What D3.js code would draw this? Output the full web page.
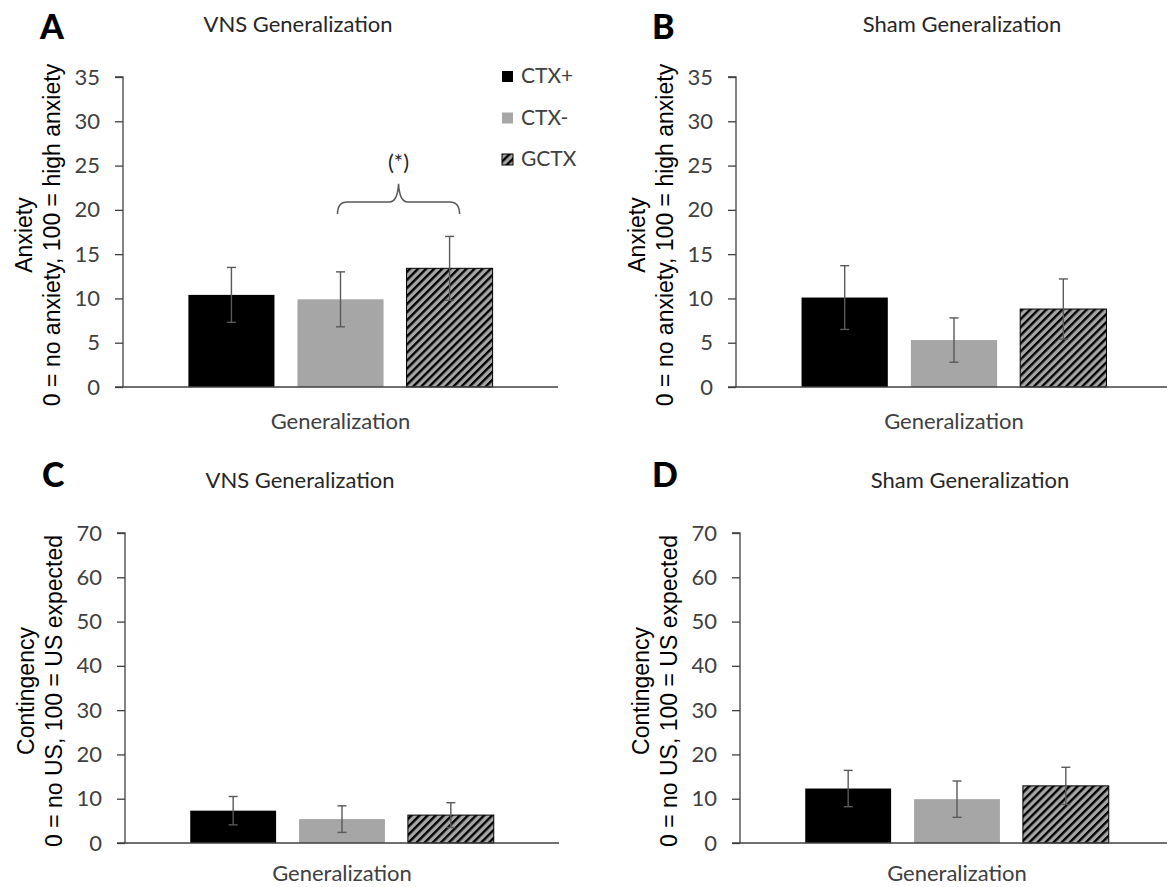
<!DOCTYPE html>
<html>
<head>
<meta charset="utf-8">
<script src="https://cdn.jsdelivr.net/npm/d3@7"></script>
<style>
  body { margin: 0; background: #fff; }
  svg { display: block; }
</style>
</head>
<body>
<svg id="chart" width="1167" height="887"></svg>
<script>
// Groups shown as bars in each panel
const series = ["CTX+", "CTX-", "GCTX"];
const category = ["Generalization"];

// Axis tick values
const anxietyTicks = [0, 5, 10, 15, 20, 25, 30, 35];
const contingencyTicks = [0, 10, 20, 30, 40, 50, 60, 70];

// Mean ratings and standard errors per group
const vnsAnxiety = [10.4, 9.9, 13.4];
const vnsAnxietyErr = [3.1, 3.1, 3.6];
const shamAnxiety = [10.1, 5.3, 8.8];
const shamAnxietyErr = [3.6, 2.5, 3.4];
const vnsContingency = [7.3, 5.4, 6.3];
const vnsContingencyErr = [3.2, 3.0, 2.8];
const shamContingency = [12.3, 9.9, 12.9];
const shamContingencyErr = [4.1, 4.1, 4.2];

// Significance marker between CTX- and GCTX in panel A
const sigLabel = "(*)";
const sigLevel = 20.9;

const svg = d3.select("#chart");
const FONT = "Lato, 'Open Sans', sans-serif";
const ARIAL = "'Liberation Sans', Arial, sans-serif";
const TEXT = "#404040";
const AXIS = "#404040";
const fills = { "CTX+": "#000000", "CTX-": "#a6a6a6", "GCTX": "url(#hatch)" };

// Diagonal hatch used by the GCTX bars
const defs = svg.append("defs");
const hatch = defs.append("pattern")
  .attr("id", "hatch")
  .attr("patternUnits", "userSpaceOnUse")
  .attr("width", 5.7).attr("height", 5.7)
  .attr("patternTransform", "rotate(45)");
hatch.append("rect").attr("width", 5.7).attr("height", 5.7).attr("fill", "#a6a6a6");
hatch.append("line").attr("x1", 1.2).attr("y1", 0).attr("x2", 1.2).attr("y2", 5.7)
  .attr("stroke", "#000").attr("stroke-width", 2.4);

const panels = [
  { letter: "A", title: "VNS Generalization", yLabel: ["Anxiety", "0 = no anxiety, 100 = high anxiety"],
    ticks: anxietyTicks, values: vnsAnxiety, errs: vnsAnxietyErr,
    left: 123, right: 558, top: 77, bottom: 387, catPad: 26,
    letterX: 40, letterY: 39, titleX: 298, titleY: 32, legend: true, sig: true },
  { letter: "B", title: "Sham Generalization", yLabel: ["Anxiety", "0 = no anxiety, 100 = high anxiety"],
    ticks: anxietyTicks, values: shamAnxiety, errs: shamAnxietyErr,
    left: 736, right: 1172, top: 77, bottom: 387, catPad: 26,
    letterX: 652, letterY: 39, titleX: 962, titleY: 32, legend: false, sig: false },
  { letter: "C", title: "VNS Generalization", yLabel: ["Contingency", "0 = no US, 100 = US expected"],
    ticks: contingencyTicks, values: vnsContingency, errs: vnsContingencyErr,
    left: 125, right: 559, top: 533, bottom: 843, catPad: 22,
    letterX: 42, letterY: 487, titleX: 300, titleY: 488, legend: false, sig: false },
  { letter: "D", title: "Sham Generalization", yLabel: ["Contingency", "0 = no US, 100 = US expected"],
    ticks: contingencyTicks, values: shamContingency, errs: shamContingencyErr,
    left: 740, right: 1174, top: 533, bottom: 843, catPad: 22,
    letterX: 652, letterY: 487, titleX: 970, titleY: 488, legend: false, sig: false }
];

panels.forEach(p => {
  const g = svg.append("g");
  const y = d3.scaleLinear()
    .domain([0, d3.max(p.ticks)])
    .range([p.bottom, p.top]);
  const x0 = d3.scaleBand()
    .domain(category)
    .range([p.left, p.right])
    .paddingInner(0)
    .paddingOuter(0.121);
  const x1 = d3.scaleBand()
    .domain(series)
    .range([x0(category[0]), x0(category[0]) + x0.bandwidth()])
    .padding(0.211);

  // Panel letter and title
  g.append("text").attr("x", p.letterX).attr("y", p.letterY)
    .attr("font-family", FONT).attr("font-weight", 900).attr("font-size", 34)
    .attr("fill", "#000").text(p.letter);
  g.append("text").attr("x", p.titleX).attr("y", p.titleY)
    .attr("text-anchor", "middle")
    .attr("font-family", FONT).attr("font-size", 22)
    .attr("fill", "#262626").text(p.title);

  // Bars
  const data = series.map((s, i) => ({ s, v: p.values[i], e: p.errs[i] }));
  g.selectAll("rect.bar").data(data).enter().append("rect")
    .attr("class", "bar")
    .attr("x", d => x1(d.s))
    .attr("width", x1.bandwidth())
    .attr("y", d => y(d.v))
    .attr("height", d => y(0) - y(d.v))
    .attr("fill", d => fills[d.s])
    .attr("stroke", d => d.s === "GCTX" ? "#000" : "none")
    .attr("stroke-width", 1);

  // Error bars
  const eb = g.selectAll("g.err").data(data).enter().append("g")
    .attr("class", "err")
    .attr("stroke", "#595959").attr("stroke-width", 1.4);
  eb.append("line")
    .attr("x1", d => x1(d.s) + x1.bandwidth() / 2)
    .attr("x2", d => x1(d.s) + x1.bandwidth() / 2)
    .attr("y1", d => y(d.v - d.e)).attr("y2", d => y(d.v + d.e));
  [1, -1].forEach(sign => {
    eb.append("line")
      .attr("x1", d => x1(d.s) + x1.bandwidth() / 2 - 4.5)
      .attr("x2", d => x1(d.s) + x1.bandwidth() / 2 + 4.5)
      .attr("y1", d => y(d.v + sign * d.e)).attr("y2", d => y(d.v + sign * d.e));
  });

  // Value axis
  const yAxis = d3.axisLeft(y).tickValues(p.ticks).tickSize(8).tickPadding(15)
    .tickFormat(d3.format("d"));
  const ya = g.append("g").attr("transform", `translate(${p.left},0)`).call(yAxis);
  ya.select(".domain").attr("stroke", AXIS).attr("stroke-width", 1.3)
    .attr("d", `M-8,${p.top}H0V${p.bottom}`);
  ya.selectAll(".tick line").attr("stroke", AXIS).attr("stroke-width", 1.3);
  ya.selectAll(".tick text")
    .attr("font-family", FONT).attr("font-size", 22).attr("fill", TEXT);

  // Category axis
  const xAxis = d3.axisBottom(x0).tickSize(0).tickPadding(p.catPad);
  const xa = g.append("g").attr("transform", `translate(0,${p.bottom})`).call(xAxis);
  xa.select(".domain").attr("stroke", AXIS).attr("stroke-width", 1.3)
    .attr("d", `M${p.left - 8},0H${p.right}`);
  xa.selectAll(".tick text")
    .attr("font-family", FONT).attr("font-size", 22).attr("fill", TEXT);

  // Two-line value axis title
  const cy = (p.top + p.bottom) / 2 + 3;
  const yl = g.append("text")
    .attr("transform", `translate(${p.left - 91},${cy}) rotate(-90)`)
    .attr("text-anchor", "middle")
    .attr("font-family", ARIAL).attr("font-size", 23).attr("fill", "#000");
  yl.append("tspan").attr("x", 0).attr("dy", 0).text(p.yLabel[0]);
  yl.append("tspan").attr("x", 0).attr("dy", 27.5).text(p.yLabel[1]);

  // Legend
  if (p.legend) {
    const lg = g.append("g").attr("transform", `translate(${p.left + 379},${p.top})`);
    series.forEach((s, i) => {
      const row = lg.append("g").attr("transform", `translate(0,${i * 41.5})`);
      row.append("rect").attr("x", 0).attr("y", -6).attr("width", 11).attr("height", 11)
        .attr("fill", fills[s]).attr("stroke", s === "GCTX" ? "#000" : "none").attr("stroke-width", 1);
      row.append("text").attr("x", 19).attr("y", 6)
        .attr("font-family", FONT).attr("font-size", 21).attr("fill", TEXT).text(s);
    });
  }

  // Brace and significance marker
  if (p.sig) {
    const xs = x1("CTX-") + x1.bandwidth() / 2 - 3;
    const xe = x1("GCTX") + x1.bandwidth() / 2 + 10;
    const xm = (xs + xe) / 2;
    const yh = y(sigLevel);
    const yEnd = yh + 12;
    const yPeak = yh - 18;
    const path = d3.path();
    path.moveTo(xs, yEnd);
    path.quadraticCurveTo(xs, yh, xs + 10, yh);
    path.lineTo(xm - 9, yh);
    path.quadraticCurveTo(xm - 1, yh, xm, yPeak);
    path.quadraticCurveTo(xm + 1, yh, xm + 9, yh);
    path.lineTo(xe - 10, yh);
    path.quadraticCurveTo(xe, yh, xe, yEnd);
    g.append("path").attr("d", path.toString())
      .attr("fill", "none").attr("stroke", "#595959").attr("stroke-width", 1.5);
    g.append("text").attr("x", xm).attr("y", yPeak - 14)
      .attr("text-anchor", "middle")
      .attr("font-family", FONT).attr("font-size", 22).attr("fill", "#262626")
      .text(sigLabel);
  }
});
</script>
</body>
</html>
